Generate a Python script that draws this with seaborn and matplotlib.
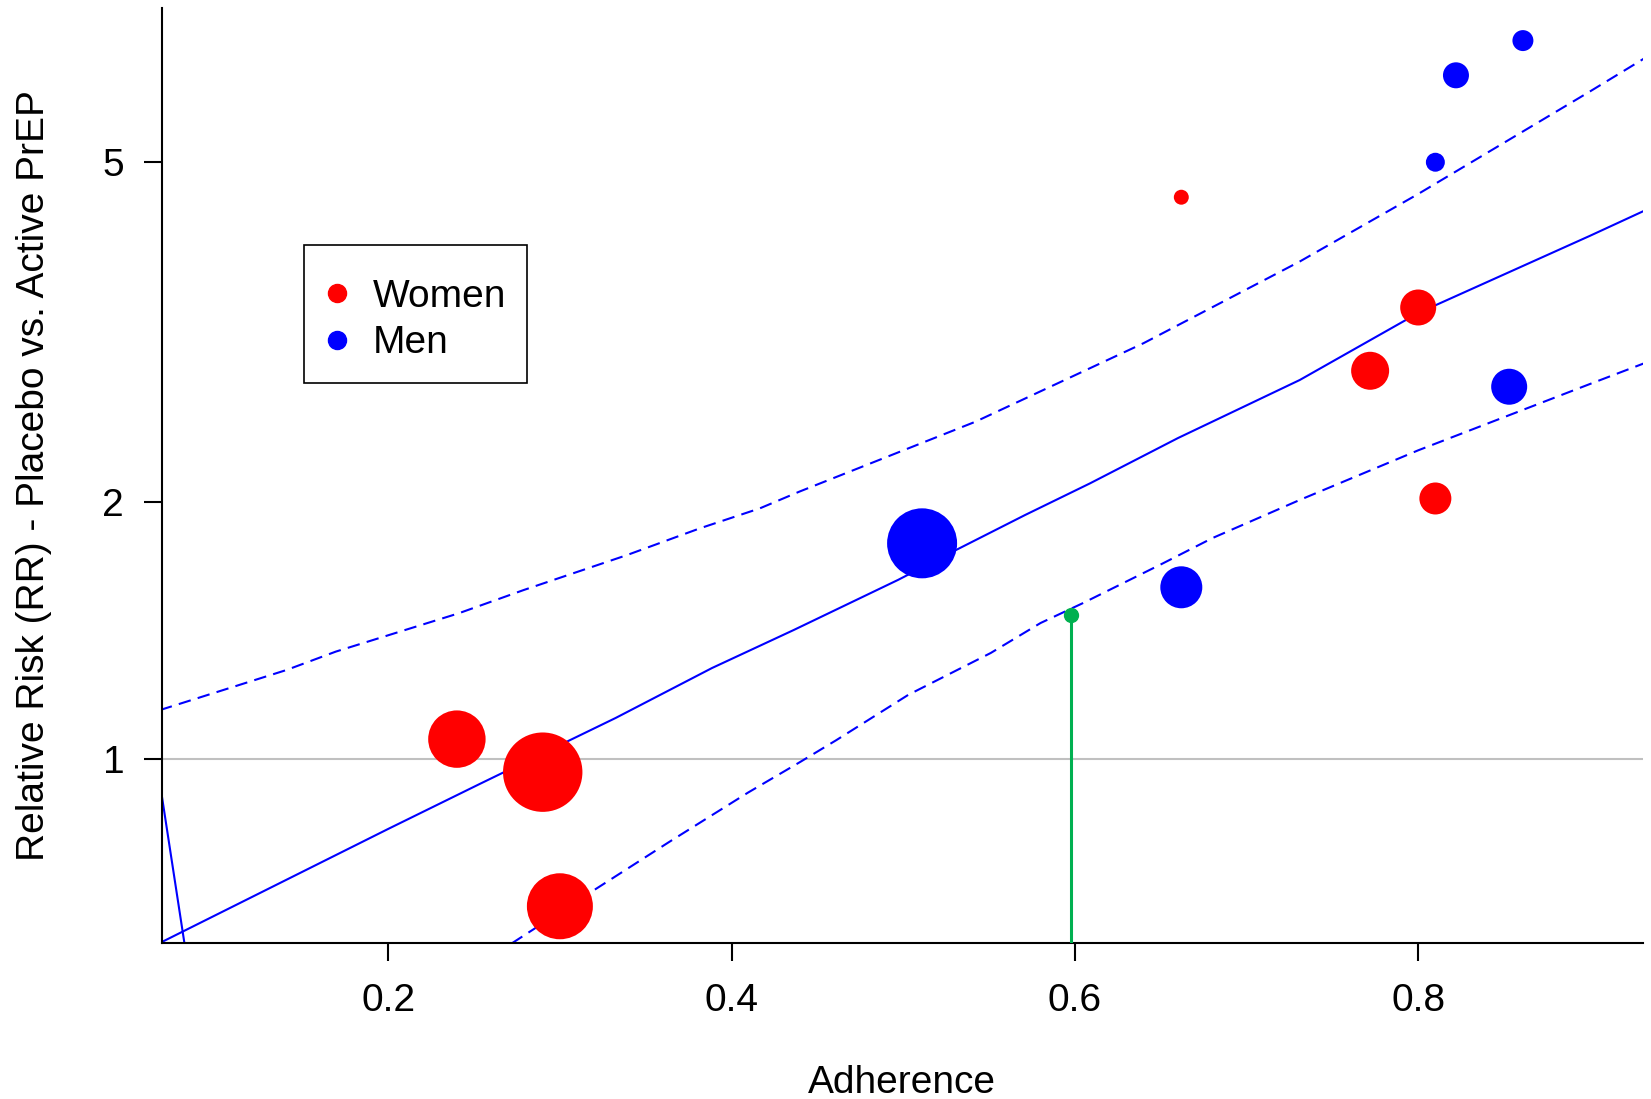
import matplotlib.pyplot as plt
from matplotlib.lines import Line2D
import numpy as np
import pandas as pd
import seaborn as sns

# study points: adherence, relative risk, study weight (drawn as marker area)
women_adh = [0.24, 0.29, 0.30, 0.662, 0.80, 0.772, 0.81]
women_rr = [1.056, 0.966, 0.673, 4.55, 3.38, 2.85, 2.02]
women_wt = [824, 1576, 1089, 56, 324, 361, 256]

men_adh = [0.511, 0.662, 0.853, 0.81, 0.822, 0.861]
men_rr = [1.79, 1.59, 2.73, 5.0, 6.32, 6.94]
men_wt = [1225, 441, 324, 90, 169, 110]

# fitted curve and its band
fit_x = [0.068, 0.2, 0.2534, 0.3325, 0.3886, 0.4362, 0.497, 0.5288, 0.571,
         0.6088, 0.660, 0.731, 0.8, 0.9, 0.932]
fit_y = [0.611, 0.829, 0.936, 1.118, 1.279, 1.417, 1.622, 1.750, 1.932,
         2.104, 2.377, 2.78, 3.33, 4.10, 4.39]
upper_x = [0.067, 0.1406, 0.1695, 0.2409, 0.2788, 0.339, 0.3816, 0.4165, 0.4396,
           0.542, 0.640, 0.731, 0.8, 0.9, 0.932]
upper_y = [1.142, 1.272, 1.337, 1.482, 1.578, 1.734, 1.864, 1.967, 2.058,
           2.484, 3.07, 3.826, 4.59, 6.05, 6.62]
lower_x = [0.272, 0.318, 0.3635, 0.4095, 0.440, 0.461, 0.503, 0.551, 0.580,
           0.6045, 0.6513, 0.680, 0.731, 0.8, 0.9, 0.932]
lower_y = [0.609, 0.699, 0.80, 0.914, 0.993, 1.053, 1.19, 1.332, 1.444,
           1.523, 1.696, 1.815, 2.012, 2.30, 2.75, 2.91]

# steep line at the left edge
steep_x = [0.0674, 0.0814]
steep_y = [0.926, 0.607]

# marked adherence / risk
mark_x = 0.598
mark_y = 1.476

df = pd.DataFrame({
    'adherence': women_adh + men_adh,
    'rr': women_rr + men_rr,
    'weight': women_wt + men_wt,
    'group': ['Women'] * len(women_adh) + ['Men'] * len(men_adh),
})

sns.set_style('ticks')
plt.rcParams['font.family'] = ['Liberation Sans', 'DejaVu Sans']
plt.rcParams['text.color'] = 'black'
plt.rcParams['axes.labelcolor'] = 'black'
plt.rcParams['xtick.color'] = 'black'
plt.rcParams['ytick.color'] = 'black'

fig = plt.figure(figsize=(16.51, 10.99), dpi=100)
ax = fig.add_axes([0.0979, 0.1422, 0.8973, 0.8502])

ax.axhline(1, color='#c0c0c0', lw=1.5, zorder=1)

sns.lineplot(x=fit_x, y=fit_y, ax=ax, color='#0000ff', lw=1.5, sort=False, zorder=2)
sns.lineplot(x=upper_x, y=upper_y, ax=ax, color='#0000ff', lw=1.5, sort=False, zorder=2)
ax.lines[-1].set_dashes((6, 3.5))
sns.lineplot(x=lower_x, y=lower_y, ax=ax, color='#0000ff', lw=1.5, sort=False, zorder=2)
ax.lines[-1].set_dashes((6, 3.5))
sns.lineplot(x=steep_x, y=steep_y, ax=ax, color='#0000ff', lw=1.5, sort=False, zorder=2)

sns.scatterplot(data=df, x='adherence', y='rr', hue='group', size='weight',
                palette={'Women': '#ff0000', 'Men': '#0000ff'},
                sizes=(116, 3268), linewidth=0, alpha=1, legend=False, ax=ax, zorder=3)

ax.plot([mark_x, mark_x], [0.5, mark_y], color='#00b050', lw=2.2, zorder=4)
ax.plot([mark_x], [mark_y], 'o', color='#00b050', ms=10, zorder=4)

ax.set_yscale('log')
ax.set_xlim(0.068, 0.931)
ax.set_ylim(0.610, 7.57)
ax.set_yticks([1, 2, 5])
ax.set_yticklabels(['1', '2', '5'])
ax.yaxis.set_minor_locator(plt.NullLocator())
ax.set_xticks([0.2, 0.4, 0.6, 0.8])
ax.set_xticklabels(['0.2', '0.4', '0.6', '0.8'])

ax.tick_params(axis='both', length=13, width=1.5, color='black', labelcolor='black', labelsize=28)
ax.tick_params(axis='x', pad=16)
ax.tick_params(axis='y', pad=14)
for s in ['left', 'bottom']:
    ax.spines[s].set_color('black')
    ax.spines[s].set_linewidth(1.5)
sns.despine(ax=ax)

ax.set_xlabel('Adherence', fontsize=28, labelpad=33, color='black')
ax.set_ylabel('Relative Risk (RR) - Placebo vs. Active PrEP', fontsize=28, labelpad=36, color='black')

# legend: a tiny blank title pushes the rows down inside the frame
handles = [Line2D([], [], marker='o', ls='', color='#ff0000', ms=13),
           Line2D([], [], marker='o', ls='', color='#0000ff', ms=13)]
leg = ax.legend(handles, ['Women', 'Men'], loc='upper left',
                bbox_to_anchor=(0.1843, 0.7768), bbox_transform=fig.transFigure,
                borderaxespad=0, fontsize=28, frameon=True, fancybox=False,
                edgecolor='black', handlelength=0.6, handletextpad=0.6,
                borderpad=0.55, labelspacing=0.28, title=' ', title_fontsize=1.5)
leg.get_frame().set_linewidth(1.2)
leg.get_frame().set_alpha(1)
for t in leg.get_texts():
    t.set_color('black')

fig.savefig('out.png', dpi=100)
